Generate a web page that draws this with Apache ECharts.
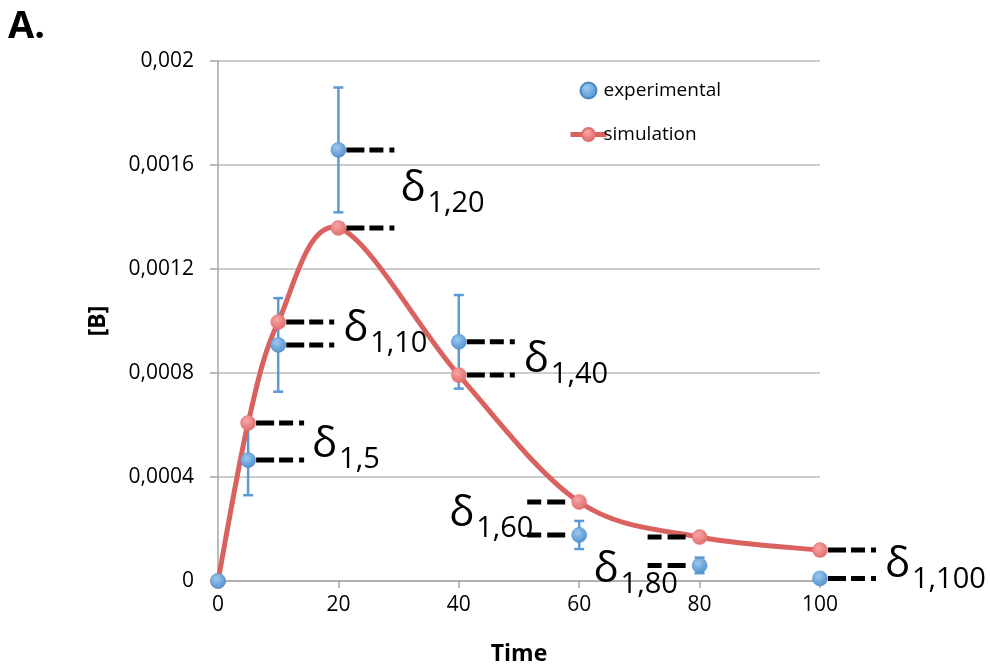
<!DOCTYPE html>
<html>
<head>
<meta charset="utf-8">
<script src="https://cdn.jsdelivr.net/npm/echarts@6/dist/echarts.min.js"></script>
<style>html,body{margin:0;padding:0;background:#fff;}#c{width:990px;height:671px;}</style>
</head>
<body>
<div id="c"></div>
<script>
// ---- data ----
const xVals = [0, 5, 10, 20, 40, 60, 80, 100];
const expY = [0, 0.000465, 0.000908, 0.001658, 0.00092, 0.000177, 0.00006, 0.00001];
const expErr = [0, 0.000135, 0.00018, 0.00024, 0.00018, 0.000054, 0.00003, 0];
const simY = [0, 0.000608, 0.000996, 0.001358, 0.000792, 0.000304, 0.000169, 0.000119];
const deltaLabels = ['', '1,5', '1,10', '1,20', '1,40', '1,60', '1,80', '1,100'];
const seriesNames = ['experimental', 'simulation'];
const yMin = 0, yMax = 0.002, yStep = 0.0004;
const xMin = 0, xMax = 100, xStep = 20;

// ---- annotation layout (styling only) ----
const annoLayout = [
  null,
  {side: 1, dx: 64, dy: -2},
  {side: 1, dx: 65, dy: -3},
  {side: 1, dx: 62, dy: -26},
  {side: 1, dx: 65, dy: -2},
  {side: -1, dx: -130, dy: -8},
  {side: -1, dx: -106, dy: 17},
  {side: 1, dx: 65, dy: -1}
];

const FONT = '"Open Sans", "Noto Sans", sans-serif';
const BLUE = '#5b9bd5';
const RED = '#d9625f';

const expData = xVals.map((x, i) => [x, expY[i]]);
const simData = xVals.map((x, i) => [x, simY[i]]);
const errData = xVals.map((x, i) => [x, expY[i] - expErr[i], expY[i] + expErr[i]]);
const annoData = xVals.map((x, i) => [x, simY[i], expY[i], i]).filter((d, i) => deltaLabels[i] !== '');
const segData = xVals.slice(0, -1).map((x, i) => [x, simY[i], i]);

const blueFill = {type: 'radial', x: 0.4, y: 0.35, r: 0.7, colorStops: [{offset: 0, color: '#9cc8ef'}, {offset: 1, color: '#4f8fd0'}]};
const redFill = {type: 'radial', x: 0.4, y: 0.35, r: 0.7, colorStops: [{offset: 0, color: '#f8a5a5'}, {offset: 1, color: '#e06a6a'}]};

function fmtY(v) {
  return String(Number(v.toPrecision(6))).replace('.', ',');
}

const chart = echarts.init(document.getElementById('c'), null, {renderer: 'canvas'});
chart.setOption({
  backgroundColor: '#fff',
  animation: false,
  grid: {left: 218, right: 170, top: 61, bottom: 90},
  graphic: [{
    type: 'text', left: 8, top: 8,
    style: {text: 'A.', font: 'bold 38px ' + FONT, fill: '#000'}
  }],
  legend: {
    data: [
      {name: seriesNames[0]},
      {name: seriesNames[1], lineStyle: {color: RED, width: 5, opacity: 1}}
    ],
    orient: 'vertical',
    left: 563, top: 76,
    itemWidth: 36, itemHeight: 16, itemGap: 25,
    textStyle: {fontFamily: FONT, fontSize: 19, color: '#000', padding: [0, 0, 0, -8]}
  },
  xAxis: {
    type: 'value', min: xMin, max: xMax, interval: xStep,
    name: 'Time', nameLocation: 'middle', nameGap: 62,
    nameTextStyle: {fontFamily: FONT, fontSize: 23, fontWeight: 'bold', color: '#000'},
    axisLine: {show: true, lineStyle: {color: '#a6a6a6', width: 1.5}},
    axisTick: {show: true, length: 7, lineStyle: {color: '#a6a6a6', width: 1.5}},
    axisLabel: {fontFamily: FONT, fontSize: 21, color: '#000', margin: 14},
    splitLine: {show: false}
  },
  yAxis: {
    type: 'value', min: yMin, max: yMax, interval: yStep,
    name: '[B]', nameLocation: 'middle', nameGap: 108, nameRotate: 90,
    nameTextStyle: {fontFamily: FONT, fontSize: 23, fontWeight: 'bold', color: '#000'},
    axisLine: {show: true, lineStyle: {color: '#a6a6a6', width: 1.5}},
    axisTick: {show: true, length: 8, lineStyle: {color: '#a6a6a6', width: 1.5}},
    axisLabel: {fontFamily: FONT, fontSize: 21, color: '#000', margin: 24, formatter: fmtY},
    splitLine: {show: true, lineStyle: {color: '#bdbdbd', width: 1.5}}
  },
  series: [
    {
      type: 'custom', name: 'errbars', z: 2, silent: true,
      data: errData,
      encode: {x: 0, y: [1, 2]},
      renderItem: function (params, api) {
        const x = api.value(0);
        const lo = api.coord([x, api.value(1)]);
        const hi = api.coord([x, api.value(2)]);
        if (Math.abs(lo[1] - hi[1]) < 1) return {type: 'group', children: []};
        const cw = 5;
        const st = {stroke: BLUE, lineWidth: 2.5};
        return {type: 'group', children: [
          {type: 'line', shape: {x1: lo[0], y1: lo[1], x2: hi[0], y2: hi[1]}, style: st},
          {type: 'line', shape: {x1: lo[0] - cw, y1: lo[1], x2: lo[0] + cw, y2: lo[1]}, style: st},
          {type: 'line', shape: {x1: hi[0] - cw, y1: hi[1], x2: hi[0] + cw, y2: hi[1]}, style: st}
        ]};
      }
    },
    {
      // smoothed simulation curve (Excel-like Catmull-Rom bezier through data points)
      type: 'custom', name: 'simcurve', z: 3, silent: true,
      data: segData,
      encode: {x: 0, y: 1},
      renderItem: function (params, api) {
        const i = api.value(2);
        const n = xVals.length;
        const P = function (k) {
          k = Math.max(0, Math.min(n - 1, k));
          return api.coord([xVals[k], simY[k]]);
        };
        const p0 = P(i - 1), p1 = P(i), p2 = P(i + 1), p3 = P(i + 2);
        const t = 1 / 6;
        return {
          type: 'bezierCurve',
          shape: {
            x1: p1[0], y1: p1[1], x2: p2[0], y2: p2[1],
            cpx1: p1[0] + (p2[0] - p0[0]) * t, cpy1: p1[1] + (p2[1] - p0[1]) * t,
            cpx2: p2[0] - (p3[0] - p1[0]) * t, cpy2: p2[1] - (p3[1] - p1[1]) * t
          },
          style: {stroke: RED, lineWidth: 5, fill: null, lineCap: 'round'}
        };
      }
    },
    {
      type: 'custom', name: 'deltas', z: 3, silent: true,
      data: annoData,
      encode: {x: 0, y: [1, 2]},
      renderItem: function (params, api) {
        const x = api.value(0);
        const idx = api.value(3);
        const lay = annoLayout[idx];
        const pS = api.coord([x, api.value(1)]);
        const pE = api.coord([x, api.value(2)]);
        const cx = pS[0];
        const s = lay.side;
        let x1 = cx + s * 8, x2 = cx + s * 57;
        let dash = [18, 5, 14, 6, 5, 200];
        if (s < 0) {
          // draw from the outer end towards the marker
          const tmp = x1; x1 = x2 + 5; x2 = tmp;
          dash = [14, 6, 18, 6, 5, 200];
        }
        const dashStyle = {stroke: '#000', lineWidth: 5, lineDash: dash};
        const base = Math.max(pS[1], pE[1]) + lay.dy;
        const left = cx + lay.dx;
        return {type: 'group', children: [
          {type: 'line', shape: {x1: x1, y1: pS[1], x2: x2, y2: pS[1]}, style: dashStyle},
          {type: 'line', shape: {x1: x1, y1: pE[1], x2: x2, y2: pE[1]}, style: dashStyle},
          {type: 'text', style: {x: left, y: base - 12.6, text: 'δ', font: '42px ' + FONT, fill: '#000', align: 'left', verticalAlign: 'middle'}},
          {type: 'text', style: {x: left + 27, y: base + 2, text: deltaLabels[idx], font: '29px ' + FONT, fill: '#000', align: 'left', verticalAlign: 'middle'}}
        ]};
      }
    },
    {
      type: 'line', name: 'simulation', z: 4,
      data: simData,
      lineStyle: {color: RED, width: 5, opacity: 0},
      symbol: 'circle', symbolSize: 15,
      itemStyle: {color: redFill, borderColor: '#e07070', borderWidth: 0.5, opacity: 1},
      emphasis: {disabled: true}
    },
    {
      type: 'scatter', name: 'experimental', z: 5,
      data: expData,
      symbol: 'circle', symbolSize: 15,
      itemStyle: {color: blueFill, borderColor: '#4a86c0', borderWidth: 0.5, opacity: 1},
      emphasis: {disabled: true}
    }
  ]
});
</script>
</body>
</html>
